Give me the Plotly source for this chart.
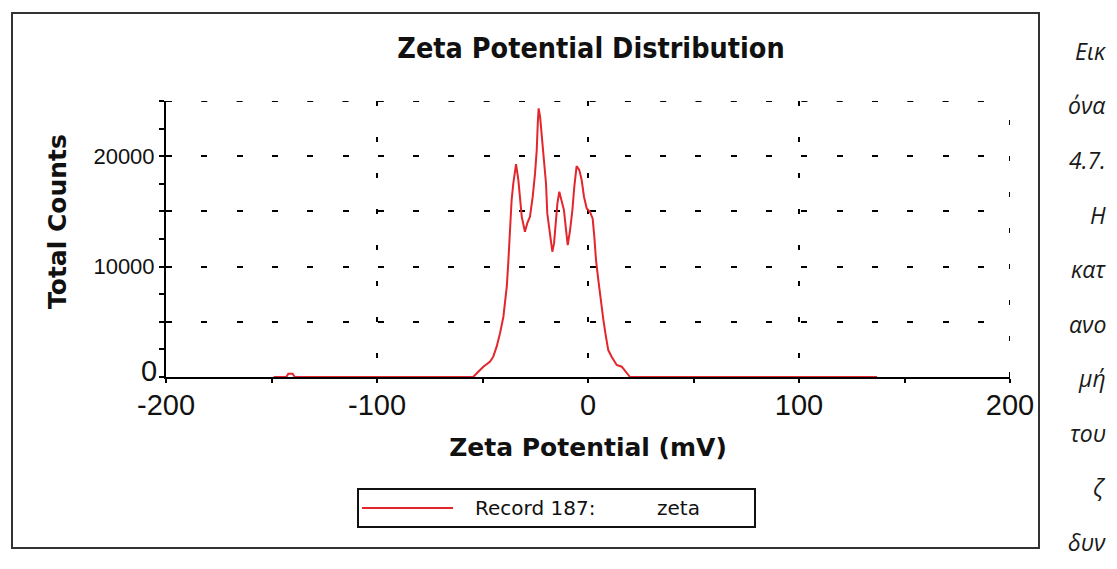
import plotly.graph_objects as go

# ---- data ----
zeta_mv = [-149, -143, -142, -140, -139,
           -54.4, -52.0, -49.6, -46.4, -44.9, -43.3, -41.7, -40.1, -39.3, -38.5, -37.8,
           -37.0, -36.2, -35.4, -34.1, -33.0, -32.2, -31.4, -29.9, -28.8, -27.5, -26.2,
           -25.1, -24.3, -23.8, -23.4, -22.7, -22.0, -21.2, -19.9, -19.3, -18.0, -16.9,
           -16.1, -15.2, -14.5, -13.6, -12.5, -11.4, -10.4, -9.6, -8.5, -7.4, -6.5,
           -5.4, -4.1, -3.0, -1.9, -0.6, 0.9, 2.2, 3.0, 3.8, 4.9, 6.0, 7.3, 8.5, 9.6,
           11.2, 13.6, 16.0, 18.0, 19.9, 137]
total_counts = [0, 0, 300, 300, 0,
                0, 480, 935, 1390, 1840, 2750, 3950, 5460, 6670, 8180, 10290,
                13310, 16030, 17530, 19290, 17840, 16330, 14520, 13160, 13910, 14520, 16330,
                18440, 20550, 22970, 24330, 23570, 22060, 19950, 17530, 14820, 12700, 11350,
                12100, 13910, 15720, 16780, 16030, 15120, 13310, 11950, 13310, 15120, 17230,
                19100, 18740, 17840, 16330, 15270, 14970, 14360, 12700, 10590, 8780, 6970, 5160, 3650, 2440,
                1840, 1090, 935, 480, 0, 0]

x_tickvals = [-200, -100, 0, 100, 200]
x_ticktext = ["-200", "-100", "0", "100", "200"]
y_tickvals = [0, 5000, 10000, 15000, 20000, 25000]
y_ticktext = ["", "", "10000", "", "20000", ""]
series_name = "Record 187:"
series_label = "zeta"
caption_words = ["Εικ", "όνα", "4.7.", "Η", "κατ", "ανο", "μή", "του", "ζ", "δυν"]

# ---- layout geometry (page pixels; the page body adds an 8px margin) ----
OFF = 8
PAGE_W, PAGE_H = 1117, 569
W, H = PAGE_W - 2 * OFF, PAGE_H - 2 * OFF
L, R, T, B = 166, 1010, 101, 377   # plot area in page pixels


def px_x(p):
    return (p - L) / (R - L)


def px_y(p):
    return (B - p) / (B - T)


RED = "#e3262b"
INK = "#111111"

fig = go.Figure()
fig.add_trace(go.Scatter(x=zeta_mv, y=total_counts, mode="lines",
                         line=dict(color=RED, width=2), name=series_name,
                         showlegend=False, hoverinfo="x+y"))

shapes = [
    # outer frame
    dict(type="rect", xref="paper", yref="paper",
         x0=px_x(12), x1=px_x(1039), y0=px_y(548), y1=px_y(13),
         line=dict(color="#333333", width=2)),
    # dashed grid at the right edge (x = 200) and top edge (y = 25000)
    dict(type="line", xref="x", yref="paper", x0=200, x1=200, y0=0, y1=1,
         line=dict(color="black", width=2, dash="5px,31px")),
    dict(type="line", xref="paper", yref="y", x0=0, x1=1, y0=25000, y1=25000,
         line=dict(color="black", width=2, dash="6px,29.3px")),
    # legend box
    dict(type="rect", xref="paper", yref="paper",
         x0=px_x(358), x1=px_x(755), y0=px_y(527), y1=px_y(489),
         line=dict(color="#111111", width=2)),
    # legend sample line
    dict(type="line", xref="paper", yref="paper",
         x0=px_x(362), x1=px_x(453), y0=px_y(508), y1=px_y(508),
         line=dict(color=RED, width=2)),
]

annotations = [
    dict(text="Total Counts", xref="paper", yref="paper", x=px_x(57), y=px_y(222),
         textangle=-90, showarrow=False, xanchor="center", yanchor="middle",
         font=dict(family="DejaVu Sans", size=25, color=INK, weight="bold")),
    dict(text="0", xref="paper", yref="paper", x=px_x(159), y=px_y(371),
         showarrow=False, xanchor="right", yanchor="middle",
         font=dict(family="Liberation Sans", size=29, color=INK)),
    dict(text=series_name, xref="paper", yref="paper", x=px_x(473), y=px_y(508),
         showarrow=False, xanchor="left", yanchor="middle",
         font=dict(family="DejaVu Sans", size=20, color=INK)),
    dict(text=series_label, xref="paper", yref="paper", x=px_x(655), y=px_y(508),
         showarrow=False, xanchor="left", yanchor="middle",
         font=dict(family="DejaVu Sans", size=20, color=INK)),
]

cap_y0, cap_dy = 51, 54.5
for i, w in enumerate(caption_words):
    annotations.append(dict(text=w, xref="paper", yref="paper", x=px_x(1108),
                            y=px_y(cap_y0 + i * cap_dy), showarrow=False,
                            xanchor="right", yanchor="middle",
                            font=dict(family="Open Sans", size=23, color="#1a1a1a",
                                      style="italic")))

fig.update_layout(
    width=W, height=H,
    margin=dict(l=L - OFF, r=W - (R - OFF), t=T - OFF, b=H - (B - OFF), autoexpand=False),
    paper_bgcolor="white", plot_bgcolor="white",
    title=dict(text="Zeta Potential Distribution", x=px_x(591), xref="paper",
               y=1 - (48 - OFF) / H, yref="container", xanchor="center", yanchor="middle",
               font=dict(family="DejaVu Sans Condensed, DejaVu Sans", size=28.5,
                         color=INK, weight="bold")),
    shapes=shapes, annotations=annotations, showlegend=False,
    xaxis=dict(range=[-200, 200], tickmode="array", tickvals=x_tickvals,
               ticktext=x_ticktext, showline=True, linecolor="black", linewidth=2,
               ticks="outside", ticklen=4, tickwidth=2, tickcolor="black",
               ticklabelstandoff=-3,
               tickfont=dict(family="Liberation Sans", size=29, color=INK),
               showgrid=True, gridcolor="black", gridwidth=2, griddash="5px,31px",
               zeroline=False,
               minor=dict(tickmode="linear", tick0=-200, dtick=50, ticks="outside",
                          ticklen=4, tickwidth=2, tickcolor="black", showgrid=False),
               title=dict(text="Zeta Potential (mV)", standoff=19,
                          font=dict(family="DejaVu Sans", size=25, color=INK,
                                    weight="bold"))),
    yaxis=dict(range=[0, 25000], tickmode="array", tickvals=y_tickvals,
               ticktext=y_ticktext, showline=True, linecolor="black", linewidth=2,
               ticks="outside", ticklen=5, tickwidth=2, tickcolor="black",
               tickfont=dict(family="Liberation Sans", size=22, color=INK),
               showgrid=True, gridcolor="black", gridwidth=2, griddash="6px,29.3px",
               zeroline=False,
               minor=dict(tickmode="linear", tick0=0, dtick=2500, ticks="outside",
                          ticklen=5, tickwidth=2, tickcolor="black", showgrid=False)),
)

fig.write_html("out.html")
